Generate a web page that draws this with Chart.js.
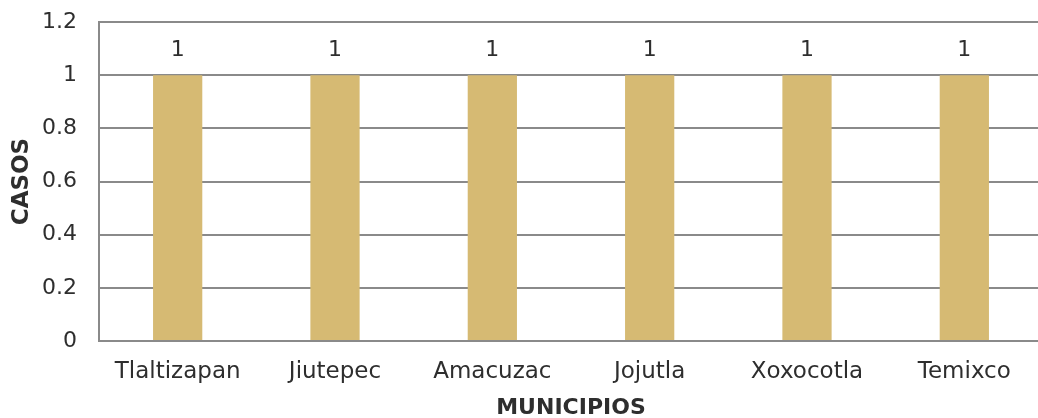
<!DOCTYPE html>
<html><head><meta charset="utf-8">
<script src="https://cdn.jsdelivr.net/npm/chart.js@4"></script>
<style>html,body{margin:0;padding:0;overflow:hidden;background:#fff}#wrap{width:1043px;height:418px;position:relative}</style>
</head><body><div id="wrap"><canvas id="c"></canvas></div>
<script>
const categories = ['Tlaltizapan','Jiutepec','Amacuzac','Jojutla','Xoxocotla','Temixco'];
const casos = [1,1,1,1,1,1];
const yTicks = [0,0.2,0.4,0.6,0.8,1,1.2];
const FONT = '"DejaVu Sans", sans-serif';
const TXT = '#2e2e2e';

const valueLabels = {
  id: 'valueLabels',
  afterDatasetsDraw(chart) {
    const ctx = chart.ctx;
    ctx.save();
    ctx.font = '22px ' + FONT;
    ctx.fillStyle = TXT;
    ctx.textAlign = 'center';
    ctx.textBaseline = 'middle';
    chart.getDatasetMeta(0).data.forEach((bar, i) => {
      ctx.fillText(String(casos[i]), bar.x, bar.y - 25);
    });
    ctx.restore();
  }
};

new Chart(document.getElementById('c'), {
  type: 'bar',
  data: { labels: categories, datasets: [{ data: casos, backgroundColor: '#D6BA73', barPercentage: 0.313, categoryPercentage: 1 }] },
  options: {
    responsive: true, maintainAspectRatio: false, animation: false,
    layout: { padding: { top: 22, right: 0, bottom: 0, left: 0 } },
    plugins: { legend: { display: false }, tooltip: { enabled: false } },
    scales: {
      x: {
        afterFit(s) { s.height = 77; s.paddingLeft = 0; s.paddingRight = 0; },
        grid: { display: false, drawTicks: false },
        border: { color: '#8a8a8a', width: 2 },
        ticks: { color: TXT, font: { family: FONT, size: 23 }, padding: 17, maxRotation: 0 },
        title: { display: true, text: 'MUNICIPIOS', color: TXT, font: { family: FONT, size: 22, weight: 'bold', lineHeight: 0.9 }, padding: { top: 0, bottom: 0 } }
      },
      y: {
        min: 0, max: 1.2,
        afterBuildTicks(scale) { scale.ticks = yTicks.map(v => ({ value: v })); },
        afterFit(s) { s.width = 99; s.paddingTop = 0; s.paddingBottom = 0; },
        grid: { color: '#8a8a8a', lineWidth: 2, drawTicks: false },
        border: { display: true, color: '#8a8a8a', width: 2 },
        ticks: { color: TXT, font: { family: FONT, size: 22 }, padding: 22, callback: v => String(v) },
        title: { display: true, text: 'CASOS', color: TXT, font: { family: FONT, size: 23, weight: 'bold' }, padding: { top: 8, bottom: 0 } }
      }
    }
  },
  plugins: [valueLabels]
});
</script></body></html>
